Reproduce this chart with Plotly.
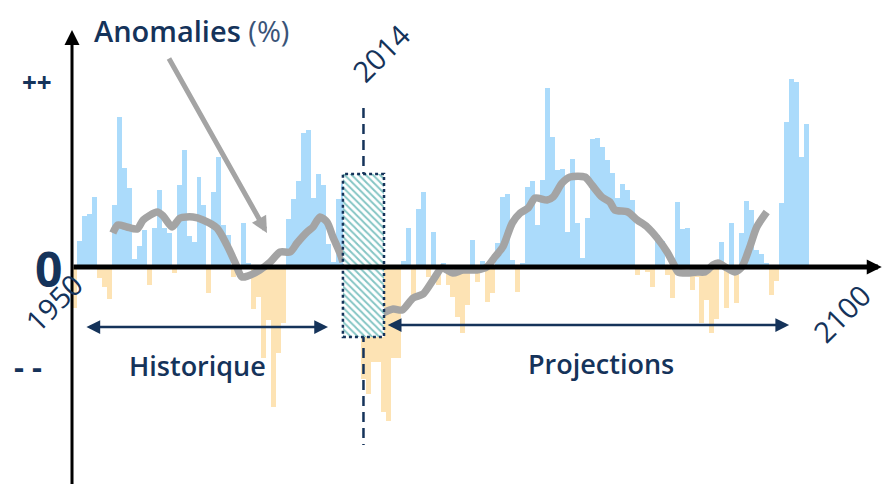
import plotly.graph_objects as go

# ---------------- data ----------------
years = list(range(1950, 1950 + 148))
anomalies = [
    -41, 26, 51, 53, 70, -11, -20, -32, 62, 150,
    99, 79, 8, 21, 37, -18, 39, 77, 39, 34,
    -6, 82, 117, 31, 25, 90, 62, -26, 75, 110,
    42, 32, -10, 2, 44, 4, -42, -30, -91, -53,
    -140, -86, -56, 48, 68, 86, 134, 137, 69, 93,
    82, 23, 5, 68, 83, 60, -40, -55, -112, -127,
    -95, -95, -145, -154, -91, -91, 6, 39, -28, 58,
    75, -10, 35, -18, 4, -18, -30, -50, -66, -38,
    27, -15, 6, -35, -26, 24, 70, 73, 7, -25,
    4, 80, 86, 42, 87, 179, 130, 97, 98, 35,
    108, 44, 9, 49, 128, 129, 120, 107, 94, 69,
    83, 77, 67, -8, -3, -5, -20, 32, 26, -8,
    -31, 65, 38, 39, -23, -10, -56, -33, -66, -52,
    25, -41, 44, -36, 34, 66, 57, 17, 13, 4,
    -28, -14, 64, 145, 188, 185, 110, 143,
]

hist_line_years = [1957.7, 1958.7, 1960.5, 1962.6, 1963.8, 1966.6, 1967.8, 1969.6,
                   1971.2, 1973.8, 1975.8, 1978.6, 1980.6, 1982.2, 1983.6, 1984.8,
                   1987.2, 1989.3, 1991.3, 1993.3, 1994.7, 1996.7, 1997.9, 1999.3,
                   2000.7, 2001.9, 2003.3, 2003.9]
hist_line_values = [34, 42, 40, 38, 47, 55, 51, 40,
                    49, 50, 47, 39, 22, 5, -10, -9,
                    -3, 5, 15, 15, 24, 35, 40, 50,
                    45, 30, 14, 5]

proj_line_years = [2011.9, 2014.0, 2015.8, 2018.0, 2020.0, 2022.0, 2023.8, 2026.0,
                   2028.0, 2030.8, 2032.8, 2034.4, 2036.0, 2037.9, 2039.5, 2041.1,
                   2042.5, 2044.9, 2046.1, 2047.9, 2049.5, 2052.5, 2053.9, 2055.9,
                   2057.5, 2058.5, 2061.1, 2063.0, 2065.0, 2067.0, 2069.0, 2070.2,
                   2071.2, 2073.0, 2075.0, 2076.6, 2078.2, 2079.2, 2081.0, 2082.6,
                   2084.0, 2085.6, 2087.0, 2089.0]
proj_line_values = [-46, -42, -43, -31, -27, -13, -1, -6,
                    -3, -3, 0, 10, 20, 44, 54, 59,
                    69, 67, 70, 84, 90, 90, 82, 70,
                    65, 57, 55, 47, 40, 29, 15, 4,
                    -5, -6, -5, -5, 2, 4, -1, -5,
                    0, 20, 40, 55]

transition_start, transition_end = 2003.9, 2012.15
transition_low, transition_high = -70, 93
split_label = "2014"
start_label, end_label = "1950", "2100"

# ---------------- style ----------------
X_RANGE = [1935.04, 2112.55]
Y_RANGE = [-217, 267]
NAVY = "#15335a"
BLUE = "#abdbfb"
ORANGE = "#fde3b4"
GREY = "#a4a4a4"
TEAL = "#0b8c8a"
FONT = "Open Sans"

colors = [BLUE if v >= 0 else ORANGE for v in anomalies]
split_x = (transition_start + transition_end) / 2

fig = go.Figure()
fig.add_trace(go.Bar(x=years, y=anomalies, width=1.0,
                     marker=dict(color=colors, line=dict(width=0)),
                     hoverinfo="skip"))
fig.add_trace(go.Scatter(x=[split_x, split_x], y=[159, -178], mode="lines",
                         line=dict(color=NAVY, width=2.5, dash="10px,6px"),
                         hoverinfo="skip"))
fig.add_trace(go.Scatter(x=hist_line_years, y=hist_line_values, mode="lines",
                         line=dict(color=GREY, width=7.5, shape="spline", smoothing=0.7),
                         hoverinfo="skip"))
fig.add_trace(go.Scatter(x=proj_line_years, y=proj_line_values, mode="lines",
                         line=dict(color=GREY, width=7.5, shape="spline", smoothing=0.7),
                         hoverinfo="skip"))
# hatched transition box on overlaid axes (drawn on top)
fig.add_trace(go.Bar(x=[split_x], y=[transition_high - transition_low], base=[transition_low],
                     width=[transition_end - transition_start],
                     xaxis="x2", yaxis="y2",
                     marker=dict(color="white", line=dict(width=0),
                                 pattern=dict(shape="\\", fgcolor=TEAL, bgcolor="white",
                                              size=5, solidity=0.4)),
                     hoverinfo="skip"))

fig.add_shape(type="rect", xref="x", yref="y",
              x0=transition_start, x1=transition_end, y0=transition_low, y1=transition_high,
              line=dict(color=NAVY, width=2.5, dash="dot"), fillcolor="rgba(0,0,0,0)",
              layer="above")

ann = []
origin_x = 1949.5
# axes arrows
ann.append(dict(x=2112.1, y=0, ax=origin_x, ay=0, axref="x", ayref="y", xref="x", yref="y",
                text="", showarrow=True, arrowhead=2, arrowsize=0.6, arrowwidth=5,
                arrowcolor="black"))
ann.append(dict(x=origin_x, y=237, ax=origin_x, ay=-225, axref="x", ayref="y", xref="x", yref="y",
                text="", showarrow=True, arrowhead=2, arrowsize=1, arrowwidth=3,
                arrowcolor="black"))
# period arrows
ann.append(dict(x=2000.9, y=-60, ax=1952.1, ay=-60, axref="x", ayref="y", xref="x", yref="y",
                text="", showarrow=True, arrowhead=2, startarrowhead=2, arrowside="end+start",
                arrowsize=1.1, startarrowsize=1.1, arrowwidth=2.5, arrowcolor=NAVY))
ann.append(dict(x=2093.5, y=-58, ax=2012.6, ay=-58, axref="x", ayref="y", xref="x", yref="y",
                text="", showarrow=True, arrowhead=2, startarrowhead=2, arrowside="end+start",
                arrowsize=1.1, startarrowsize=1.1, arrowwidth=2.5, arrowcolor=NAVY))
# grey pointer arrow
ann.append(dict(x=1988.65, y=34, ax=1968.8, ay=210, axref="x", ayref="y", xref="x", yref="y",
                text="", showarrow=True, arrowhead=2, arrowsize=0.65, arrowwidth=5,
                arrowcolor=GREY))

def txt(x, y, s, size, angle=0, xanchor="center", weight=400):
    return dict(x=x, y=y, xref="x", yref="y", text=s, showarrow=False, textangle=angle,
                xanchor=xanchor, yanchor="middle",
                font=dict(family=FONT, size=size, color=NAVY, weight=weight))

ann.append(txt(1953.5, 237, "Anomalies <span style='color:#3a5478;font-weight:400'>(%)</span>",
               29, xanchor="left", weight=600))
ann.append(txt(1942.4, 185, "++", 26, weight=700))
ann.append(txt(1944.7, -1, "0", 48, weight=700))
ann.append(txt(1940.6, -99, "- -", 31, weight=700))
ann.append(txt(1945.7, -35, start_label, 29, angle=-45))
ann.append(txt(2011.5, 215, split_label, 29, angle=-45))
ann.append(txt(2103.9, -46, end_label, 29, angle=-45))
ann.append(txt(1974.6, -98, "Historique", 27, weight=600))
ann.append(txt(2055.7, -96, "Projections", 27, weight=600))

fig.update_layout(
    width=884, height=484, autosize=False,
    margin=dict(l=0, r=0, t=0, b=0),
    paper_bgcolor="white", plot_bgcolor="white",
    showlegend=False, barmode="overlay", bargap=0,
    xaxis=dict(range=X_RANGE, visible=False, fixedrange=True),
    yaxis=dict(range=Y_RANGE, visible=False, fixedrange=True),
    xaxis2=dict(range=X_RANGE, visible=False, overlaying="x", fixedrange=True),
    yaxis2=dict(range=Y_RANGE, visible=False, overlaying="y", fixedrange=True),
    annotations=ann,
)

fig.write_html("out.html", config={"displayModeBar": False},
               post_script="document.body.style.margin='0';document.body.style.overflow='hidden';")
